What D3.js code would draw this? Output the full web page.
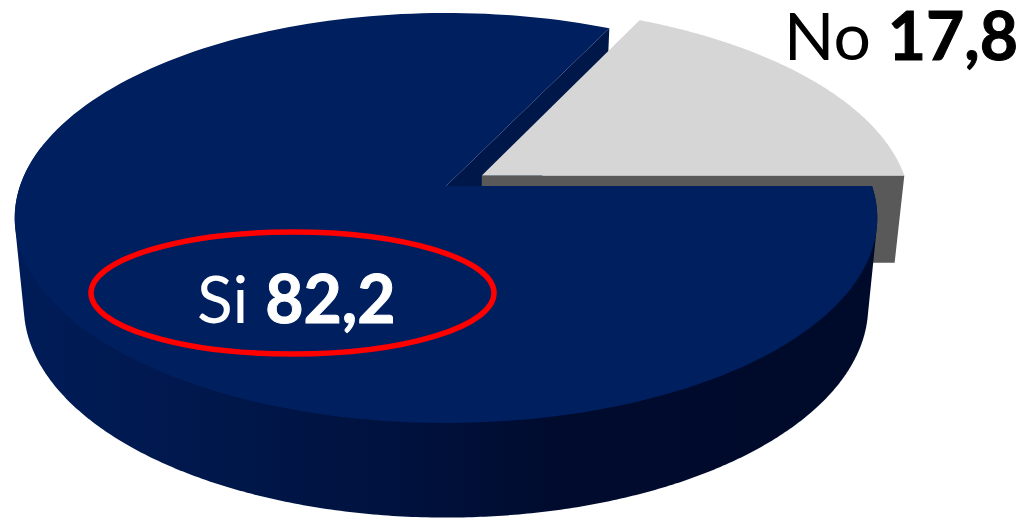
<!DOCTYPE html>
<html>
<head>
<meta charset="utf-8">
<style>
 html, body { margin: 0; padding: 0; background: #fff; }
 svg { display: block; }
 text { font-family: Lato, "Open Sans", sans-serif; }
</style>
</head>
<body>
<svg width="1023" height="518"></svg>
<script src="https://cdnjs.cloudflare.com/ajax/libs/d3/7.8.5/d3.min.js"></script>
<script>
// Chart data
var labels = ["No", "Si"];
var values = [17.8, 82.2];
var valueText = ["17,8", "82,2"];

// Slice colours
var topColors = ["#d6d6d6", "#001f5f"];
var sideColor = "#595959";
var cutColor = "#00174a";

var svg = d3.select("svg");
var pi2 = Math.PI * 2;

// No slice ends pointing right, Si goes on round the rest of the disc
var pie = d3.pie().sort(null)
 .startAngle(Math.PI / 2 - values[0] / d3.sum(values) * pi2)
 .endAngle(Math.PI / 2 - values[0] / d3.sum(values) * pi2 + pi2);
var slices = pie(values);

// Tilted disc: top and bottom faces of the pie in perspective
var topFace = { cx: 446, cy: 186, ax: 426, ay: 200, b: -0.156 };
var lowFace = { cx: 446, cy: 273.5, ax: 417, ay: 206, b: -0.156 };
var explode = 0.1;

function project(face, x, y) {
 var w = 1 + face.b * y;
 return [face.cx + face.ax * x / w, face.cy + face.ay * y / w];
}

function rim(face, a, off) {
 return project(face, Math.sin(a) + (off ? off[0] : 0), -Math.cos(a) + (off ? off[1] : 0));
}

function arcPoints(face, a0, a1, off) {
 return d3.range(0, 181).map(function(i) {
  return rim(face, a0 + (a1 - a0) * i / 180, off);
 });
}

function centre(face, off) {
 return project(face, off ? off[0] : 0, off ? off[1] : 0);
}

var line = d3.line();

function poly(points, fill) {
 return svg.append("path").attr("d", line(points) + "Z").attr("fill", fill);
}

// Side shading of the big slice
var grad = svg.append("defs").append("linearGradient")
 .attr("id", "sideGrad")
 .attr("gradientUnits", "userSpaceOnUse")
 .attr("x1", 15).attr("x2", 880).attr("y1", 0).attr("y2", 0);
grad.append("stop").attr("offset", "0").attr("stop-color", "#001c58");
grad.append("stop").attr("offset", "0.25").attr("stop-color", "#00174a");
grad.append("stop").attr("offset", "0.5").attr("stop-color", "#00103a");
grad.append("stop").attr("offset", "0.62").attr("stop-color", "#000b2e");
grad.append("stop").attr("offset", "1").attr("stop-color", "#000a2a");

var no = slices[0];
var si = slices[1];
var midNo = (no.startAngle + no.endAngle) / 2;
var noOff = [Math.sin(midNo) * explode, -Math.cos(midNo) * explode];

// Cut face of Si, seen through the gap
poly([
 centre(topFace),
 rim(topFace, si.endAngle),
 rim(lowFace, si.endAngle),
 centre(lowFace)
], cutColor);

// No slice: radial wall first, then the top
poly([
 centre(topFace, noOff),
 rim(topFace, no.endAngle, noOff),
 rim(lowFace, no.endAngle, noOff),
 centre(lowFace, noOff)
], sideColor);
poly([centre(topFace, noOff)].concat(arcPoints(topFace, no.startAngle, no.endAngle, noOff)), topColors[0]);

// Si slice: outer wall in two hulls so it stays under the top face, then the top
function wallHull(a0, a1) {
 return d3.polygonHull(arcPoints(topFace, a0, a1).concat(arcPoints(lowFace, a0, a1)));
}
poly(wallHull(Math.PI / 2, Math.PI), "url(#sideGrad)");
poly(wallHull(Math.PI, Math.PI * 1.5 + 0.2), "url(#sideGrad)");
poly([centre(topFace)].concat(arcPoints(topFace, si.startAngle, si.endAngle)), topColors[1]);

// Red ring round the Si label
svg.append("ellipse")
 .attr("cx", 292.5).attr("cy", 293)
 .attr("rx", 201.5).attr("ry", 61)
 .attr("fill", "none")
 .attr("stroke", "#ff0000")
 .attr("stroke-width", 5.5);

function label(i, x, y, anchor, color) {
 var t = svg.append("text")
  .attr("x", x).attr("y", y)
  .attr("text-anchor", anchor)
  .attr("font-size", 66)
  .attr("fill", color);
 t.append("tspan").text(labels[i] + " ");
 t.append("tspan").attr("font-weight", "bold")
  .attr("stroke", color).attr("stroke-width", 1)
  .text(valueText[i]);
}

label(0, 1018, 60, "end", "#000");
label(1, 197, 323, "start", "#fff");
</script>
</body>
</html>
